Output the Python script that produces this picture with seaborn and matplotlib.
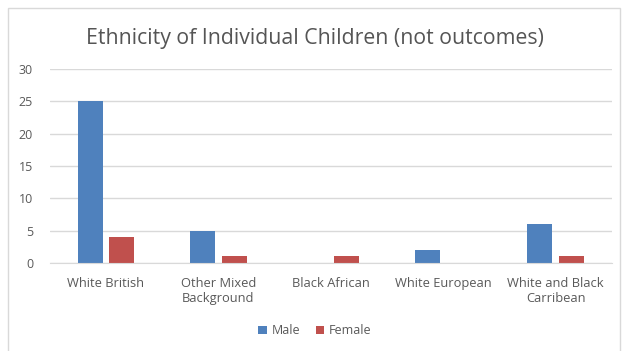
import matplotlib.pyplot as plt
import seaborn as sns
import pandas as pd
from matplotlib.patches import Rectangle

categories = ['White British', 'Other Mixed\nBackground', 'Black African',
              'White European', 'White and Black\nCarribean']
male = [25, 5, 0, 2, 6]
female = [4, 1, 1, 0, 1]

df = pd.DataFrame({
    'Ethnicity': categories * 2,
    'Count': male + female,
    'Sex': ['Male'] * len(categories) + ['Female'] * len(categories),
})

sns.set_style('white')
plt.rcParams['font.family'] = ['Open Sans', 'DejaVu Sans']

fig = plt.figure(figsize=(6.3, 3.51), dpi=100)
ax = fig.add_axes([0.079, 0.251, 0.892, 0.552])

sns.barplot(data=df, x='Ethnicity', y='Count', hue='Sex', ax=ax,
            palette={'Male': '#4F81BD', 'Female': '#C0504D'}, saturation=1,
            width=0.56, gap=0.2, errorbar=None, edgecolor='none')

ax.set_ylim(0, 30)
ax.set_yticks(range(0, 31, 5))
ax.yaxis.grid(True, color='#D9D9D9', linewidth=1)
ax.set_axisbelow(True)
for s in ['top', 'right', 'left']:
    ax.spines[s].set_visible(False)
ax.spines['bottom'].set_color('#D9D9D9')
ax.tick_params(axis='both', length=0, labelsize=9, colors='#595959')
ax.tick_params(axis='y', pad=12)
ax.tick_params(axis='x', pad=10, labelsize=9.3)
ax.set_xlabel('')
ax.set_ylabel('')

fig.text(0.5, 0.89, 'Ethnicity of Individual Children (not outcomes)',
         ha='center', va='center', fontsize=15.3, color='#555555')

ax.legend(loc='center', bbox_to_anchor=(0.5, 0.057), bbox_transform=fig.transFigure,
          ncol=2, frameon=False, fontsize=9, handlelength=0.7, handleheight=0.7,
          handletextpad=0.4, columnspacing=1.2, labelcolor='#595959')

fig.patches.append(Rectangle((8 / 630, -0.01), 612 / 630, 1 - 8 / 351 + 0.01,
                             transform=fig.transFigure, fill=False,
                             edgecolor='#D9D9D9', linewidth=1))

fig.savefig('out.png', dpi=100)
